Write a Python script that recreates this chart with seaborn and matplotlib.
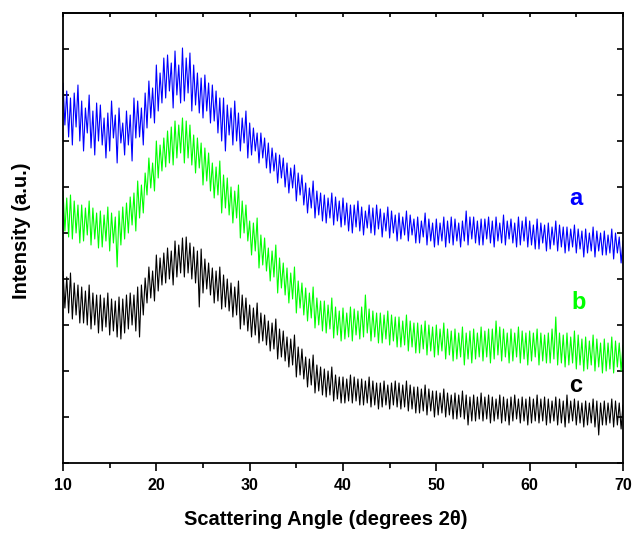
import numpy as np
import pandas as pd
import matplotlib
matplotlib.use("Agg")
import matplotlib.pyplot as plt
import seaborn as sns

# intensity readings (a.u.), 0.2 degree steps from 10 to 70 degrees 2theta
curve_a = [
    380, 338, 372, 326, 365, 318, 370, 336, 378, 322,
    362, 312, 355, 330, 368, 315, 352, 308, 360, 322,
    358, 318, 345, 305, 350, 312, 362, 325, 348, 300,
    355, 320, 340, 308, 352, 318, 348, 302, 365, 325,
    362, 326, 355, 318, 370, 335, 382, 345, 375, 340,
    398, 352, 390, 360, 405, 365, 408, 372, 400, 355,
    412, 368, 398, 360, 415, 362, 405, 370, 410, 352,
    398, 358, 390, 350, 385, 345, 388, 352, 380, 340,
    378, 342, 372, 330, 365, 322, 365, 312, 358, 328,
    355, 318, 362, 322, 350, 312, 345, 320, 352, 305,
    340, 308, 335, 312, 330, 300, 330, 305, 325, 295,
    320, 290, 315, 292, 310, 280, 308, 285, 305, 276,
    300, 270, 295, 275, 298, 262, 290, 268, 288, 258,
    280, 250, 275, 255, 282, 245, 272, 248, 270, 242,
    268, 240, 265, 245, 270, 238, 266, 242, 262, 236,
    265, 238, 260, 232, 258, 230, 258, 236, 262, 232,
    256, 228, 252, 235, 258, 230, 255, 228, 258, 234,
    254, 226, 250, 232, 256, 225, 252, 230, 248, 222,
    250, 224, 246, 228, 252, 222, 248, 228, 244, 220,
    246, 220, 242, 226, 250, 218, 244, 222, 240, 216,
    244, 218, 240, 222, 246, 216, 242, 220, 246, 218,
    244, 222, 240, 216, 242, 222, 252, 218, 246, 224,
    246, 220, 242, 218, 244, 218, 244, 224, 246, 220,
    242, 216, 246, 222, 240, 220, 248, 218, 242, 224,
    244, 220, 240, 216, 246, 218, 242, 222, 246, 216,
    242, 218, 238, 214, 244, 214, 240, 220, 238, 212,
    240, 214, 236, 218, 242, 212, 238, 216, 236, 210,
    236, 212, 234, 216, 238, 210, 234, 214, 232, 206,
    234, 210, 230, 212, 236, 206, 232, 212, 230, 208,
    232, 208, 228, 210, 234, 204, 230, 210, 226, 200,
    222,
]

curve_b = [
    272, 232, 265, 226, 268, 224, 262, 230, 258, 220,
    258, 222, 255, 228, 262, 218, 255, 224, 250, 215,
    252, 216, 248, 222, 256, 212, 250, 220, 246, 196,
    252, 218, 256, 224, 260, 230, 266, 238, 270, 232,
    282, 245, 278, 250, 290, 268, 305, 275, 300, 272,
    322, 285, 318, 292, 325, 296, 332, 300, 336, 298,
    342, 305, 338, 310, 345, 300, 342, 305, 338, 298,
    328, 290, 325, 295, 320, 278, 315, 282, 310, 272,
    300, 265, 296, 268, 302, 250, 288, 255, 285, 248,
    276, 240, 272, 245, 278, 225, 262, 230, 258, 222,
    242, 208, 240, 212, 245, 195, 228, 198, 225, 192,
    215, 182, 212, 186, 218, 170, 205, 175, 200, 168,
    195, 160, 190, 164, 196, 150, 182, 155, 180, 148,
    175, 142, 170, 145, 176, 135, 165, 138, 162, 132,
    162, 130, 158, 134, 165, 125, 156, 128, 152, 122,
    155, 124, 150, 126, 156, 122, 154, 128, 152, 124,
    156, 126, 168, 130, 154, 122, 152, 126, 150, 120,
    150, 120, 148, 124, 152, 118, 148, 122, 146, 116,
    146, 116, 142, 118, 148, 112, 142, 116, 140, 110,
    140, 110, 138, 114, 142, 108, 138, 112, 136, 106,
    138, 108, 134, 112, 140, 104, 134, 108, 132, 102,
    134, 104, 130, 106, 136, 98, 130, 104, 132, 100,
    134, 104, 130, 106, 136, 102, 132, 106, 134, 100,
    134, 104, 142, 108, 136, 102, 134, 106, 130, 100,
    134, 102, 130, 106, 136, 100, 132, 104, 130, 98,
    132, 102, 130, 106, 134, 98, 130, 102, 128, 100,
    130, 100, 134, 104, 146, 98, 130, 100, 128, 96,
    130, 98, 126, 100, 132, 94, 128, 98, 124, 92,
    126, 94, 122, 98, 128, 92, 124, 96, 120, 90,
    124, 92, 120, 94, 126, 90, 122, 96, 120, 92,
    118,
]

curve_c = [
    192, 155, 186, 150, 190, 144, 180, 148, 178, 140,
    176, 140, 172, 138, 178, 134, 170, 138, 168, 130,
    168, 132, 165, 136, 170, 128, 164, 132, 162, 126,
    166, 124, 164, 130, 168, 134, 170, 138, 168, 132,
    176, 126, 178, 148, 185, 160, 196, 165, 192, 162,
    208, 172, 205, 178, 210, 180, 215, 184, 212, 178,
    222, 186, 218, 190, 225, 186, 226, 190, 220, 184,
    216, 180, 212, 156, 214, 170, 204, 174, 200, 168,
    195, 160, 192, 162, 196, 154, 188, 156, 184, 152,
    180, 146, 176, 148, 182, 134, 168, 138, 165, 132,
    158, 126, 155, 128, 160, 120, 150, 122, 148, 118,
    142, 112, 140, 114, 144, 104, 134, 106, 132, 102,
    126, 96, 124, 98, 128, 86, 116, 88, 114, 84,
    106, 76, 104, 78, 108, 70, 98, 72, 96, 68,
    94, 66, 92, 68, 96, 62, 88, 64, 86, 60,
    86, 60, 84, 62, 88, 60, 86, 62, 84, 58,
    84, 58, 82, 60, 86, 56, 82, 58, 80, 54,
    80, 56, 82, 58, 78, 54, 80, 58, 82, 56,
    80, 54, 78, 56, 82, 52, 78, 54, 76, 50,
    76, 50, 74, 52, 78, 48, 74, 52, 72, 46,
    72, 48, 70, 50, 74, 46, 70, 48, 68, 44,
    70, 44, 68, 46, 72, 44, 68, 38, 66, 42,
    68, 42, 66, 44, 70, 42, 66, 44, 68, 40,
    66, 42, 64, 44, 68, 40, 66, 42, 64, 38,
    66, 42, 68, 44, 64, 40, 66, 42, 64, 38,
    66, 40, 64, 42, 68, 40, 64, 42, 66, 38,
    64, 40, 62, 42, 66, 38, 64, 40, 62, 36,
    68, 40, 62, 42, 64, 38, 62, 40, 60, 36,
    62, 38, 60, 40, 64, 36, 62, 28, 60, 38,
    62, 38, 60, 40, 64, 36, 62, 38, 60, 34,
    58,
]

labels = ["a", "b", "c"]
colors = ["#0000ff", "#00ff00", "#000000"]
label_pos = [(65.0, 258), (65.2, 154), (64.9, 71)]

frames = []
for name, vals in zip(labels, [curve_a, curve_b, curve_c]):
    frames.append(pd.DataFrame({
        "angle": np.linspace(10, 70, len(vals)),
        "intensity": vals,
        "sample": name,
    }))
df = pd.concat(frames, ignore_index=True)

sns.set_style("ticks")
plt.rcParams["font.family"] = ["Liberation Sans", "DejaVu Sans"]
plt.rcParams["text.color"] = "black"
plt.rcParams["axes.labelcolor"] = "black"
plt.rcParams["xtick.color"] = "black"
plt.rcParams["ytick.color"] = "black"

fig = plt.figure(figsize=(6.34, 5.35), dpi=100)
ax = fig.add_axes([0.0994, 0.1346, 0.8832, 0.8411])

sns.lineplot(data=df, x="angle", y="intensity", hue="sample",
             palette=dict(zip(labels, colors)), linewidth=0.8,
             legend=False, ax=ax, estimator=None, sort=False)

for name, col, (lx, ly) in zip(labels, colors, label_pos):
    ax.text(lx, ly, name, color=col, fontsize=17, fontweight="bold",
            ha="center", va="baseline")

ax.set_xlim(10, 70)
ax.set_ylim(0, 450)
xt = np.arange(10, 71, 10)
ax.set_xticks(xt)
ax.set_xticklabels([str(v) for v in xt], fontweight="bold", fontsize=11.5)
ax.set_xticks(np.arange(15, 70, 10), minor=True)
ax.set_yticks(np.arange(0, 450, 46))
ax.set_yticklabels([])

for s in ax.spines.values():
    s.set_visible(True)
    s.set_linewidth(1.3)
    s.set_color("black")

ax.tick_params(axis="x", which="major", direction="out", length=6, width=1.2,
               pad=5)
ax.tick_params(axis="x", which="minor", direction="out", length=3.5, width=1.2)
ax.tick_params(axis="y", which="major", direction="in", length=4, width=1.2,
               right=True)

# inward ticks along the top edge
top = ax.secondary_xaxis("top")
top.set_xticks(xt)
top.set_xticks(np.arange(15, 70, 10), minor=True)
top.set_xticklabels([])
top.tick_params(which="both", direction="in", length=3, width=1.2)
top.spines["top"].set_linewidth(1.3)

ax.set_xlabel("Scattering Angle (degrees 2θ)", fontsize=14.5,
              fontweight="bold")
ax.xaxis.set_label_coords(0.47, -0.105)
ax.set_ylabel("Intensity (a.u.)", fontsize=14.5, fontweight="bold")
ax.yaxis.set_label_coords(-0.057, 0.516)

fig.savefig("out.png", dpi=100)
